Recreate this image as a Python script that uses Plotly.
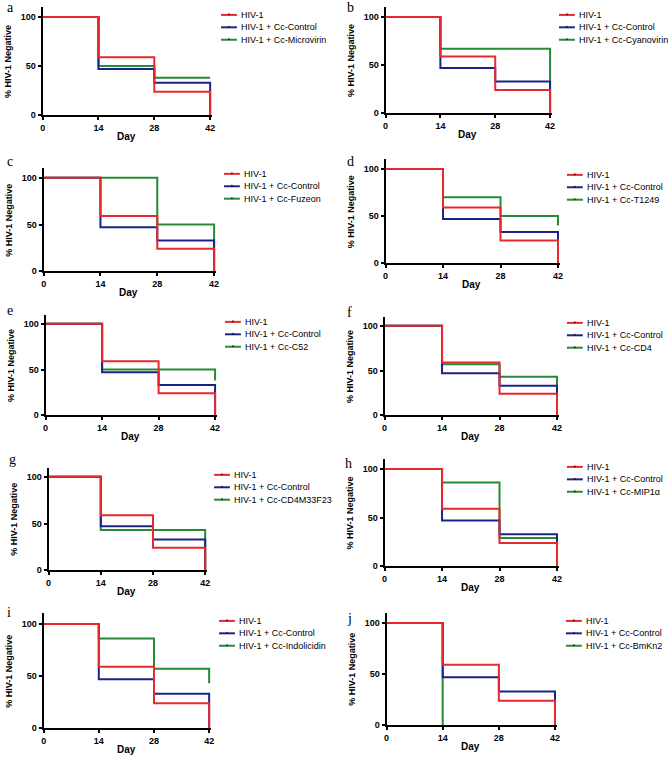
import plotly.graph_objects as go

W, H = 672, 764

# ---------------- data ----------------
panel_letters = ["a", "b", "c", "d", "e", "f", "g", "h", "i", "j"]
treatments = ["Cc-Microvirin", "Cc-Cyanovirin", "Cc-Fuzeon", "Cc-T1249", "Cc-C52",
              "Cc-CD4", "Cc-CD4M33F23", "Cc-MIP1α", "Cc-Indolicidin", "Cc-BmKn2"]

step_days = [0, 14, 28, 42, 42]        # step positions (last one = final drop at day 42)
hiv1_values = [100, 59, 24, 24, 0]
control_values = [100, 47, 33, 33, 0]
treatment_days = [step_days] * 9 + [[0, 14]]
treatment_values = [
    [100, 50, 38, 38, 38],
    [100, 67, 67, 67, 0],
    [100, 100, 50, 50, 0],
    [100, 70, 50, 50, 40],
    [100, 50, 50, 50, 38],
    [100, 57, 43, 43, 0],
    [100, 43, 43, 43, 0],
    [100, 86, 29, 29, 0],
    [100, 86, 57, 57, 43],
    [100, 0],
]
x_ticks = [0, 14, 28, 42]
y_ticks = [0, 50, 100]

# ---------------- layout geometry (pixels) ----------------
# x of day 0, x of day 42, y of value 100, y of value 0
geom = [
    (40, 209, 17, 116),
    (386, 552, 17, 114),
    (41, 213, 179, 273),
    (386, 560, 170, 265),
    (43, 214, 326, 418),
    (385, 559, 328, 418),
    (46, 204, 480, 574),
    (385, 559, 472, 570),
    (41, 208, 628, 733),
    (387, 557, 627, 730),
]
letter_pos = [(3, 8), (346, 8), (3, 163), (346, 163), (3, 313), (346, 315),
              (5, 463), (344, 467), (3, 617), (346, 623)]
legend_pos = [(220, 15), (561, 15), (223, 175), (569, 176), (224, 324), (569, 325),
              (213, 478), (569, 470), (218, 625), (568, 625)]

RED = "#e8282e"
BLUE = "#1c2386"
GREEN = "#278a34"
FONT = "Liberation Sans, Arial, sans-serif"

XMAX = 42.5
YMAX = 110

def px(x):
    return x / W

def py(y):
    return 1 - y / H

fig = go.Figure()
annotations = []
shapes = []
layout = {}

for k in range(10):
    x0, x1, y100, y0 = geom[k]
    sfx = "" if k == 0 else str(k + 1)
    xa, ya = "x" + sfx, "y" + sfx
    xend = x0 + (x1 - x0) * XMAX / 42
    ytop = y0 - (y0 - y100) * YMAX / 100

    series = [
        ("HIV-1 + " + treatments[k], treatment_days[k], treatment_values[k], GREEN),
        ("HIV-1 + Cc-Control", step_days, control_values, BLUE),
        ("HIV-1", step_days, hiv1_values, RED),
    ]
    for name, xs, ys, col in series:
        fig.add_trace(go.Scatter(
            x=xs, y=ys, mode="lines", name=name, line=dict(color=col, width=2, shape="hv"),
            xaxis=xa, yaxis=ya, showlegend=False, hoverinfo="skip"))

    axis_common = dict(showline=True, linecolor="black", linewidth=2, ticks="outside",
                       ticklen=3, tickwidth=2, tickcolor="black", showgrid=False,
                       zeroline=False, fixedrange=True,
                       tickfont=dict(family=FONT, size=9, color="black", weight="bold"))
    layout["xaxis" + sfx] = dict(axis_common, domain=[px(x0), px(xend)], range=[0, XMAX],
                                 tickvals=x_ticks, anchor=ya)
    layout["yaxis" + sfx] = dict(axis_common, domain=[py(y0), py(ytop)], range=[0, YMAX],
                                 tickvals=y_ticks, anchor=xa)

    # panel letter
    lx, ly = letter_pos[k]
    annotations.append(dict(text=panel_letters[k], x=px(lx), y=py(ly), xref="paper", yref="paper",
                            xanchor="left", yanchor="middle", showarrow=False, borderpad=0,
                            font=dict(family="Liberation Serif, Times New Roman, serif", size=14, color="black")))
    # y title
    annotations.append(dict(text="% HIV-1 Negative", x=px(x0 - 35), y=py((ytop + y0) / 2),
                            xref="paper", yref="paper", textangle=-90, showarrow=False,
                            xanchor="center", yanchor="middle", borderpad=0,
                            font=dict(family=FONT, size=9, color="black", weight="bold")))
    # x title
    annotations.append(dict(text="Day", x=px((x0 + x1) / 2), y=py(y0 + 21), xref="paper", yref="paper",
                            showarrow=False, xanchor="center", yanchor="middle", borderpad=0,
                            font=dict(family=FONT, size=10, color="black", weight="bold")))
    # legend (drawn manually for compact spacing)
    gx, gy = legend_pos[k]
    leg = [("HIV-1", RED), ("HIV-1 + Cc-Control", BLUE), ("HIV-1 + " + treatments[k], GREEN)]
    for j, (name, col) in enumerate(leg):
        yy = gy + j * 12.5
        shapes.append(dict(type="line", xref="paper", yref="paper", x0=px(gx), x1=px(gx + 16),
                           y0=py(yy), y1=py(yy), line=dict(color=col, width=2)))
        shapes.append(dict(type="line", xref="paper", yref="paper", x0=px(gx + 8), x1=px(gx + 8),
                           y0=py(yy - 1.5), y1=py(yy + 0.5), line=dict(color="black", width=1)))
        annotations.append(dict(text=name, x=px(gx + 19), y=py(yy), xref="paper", yref="paper",
                                showarrow=False, xanchor="left", yanchor="middle", borderpad=0,
                                font=dict(family=FONT, size=9, color="black")))

fig.update_layout(
    width=W, height=H, margin=dict(l=0, r=0, t=0, b=0),
    paper_bgcolor="white", plot_bgcolor="white", showlegend=False,
    annotations=annotations, shapes=shapes, **layout)

fig.write_html("out.html", config={"displayModeBar": False},
               post_script="document.body.style.margin='0';")
